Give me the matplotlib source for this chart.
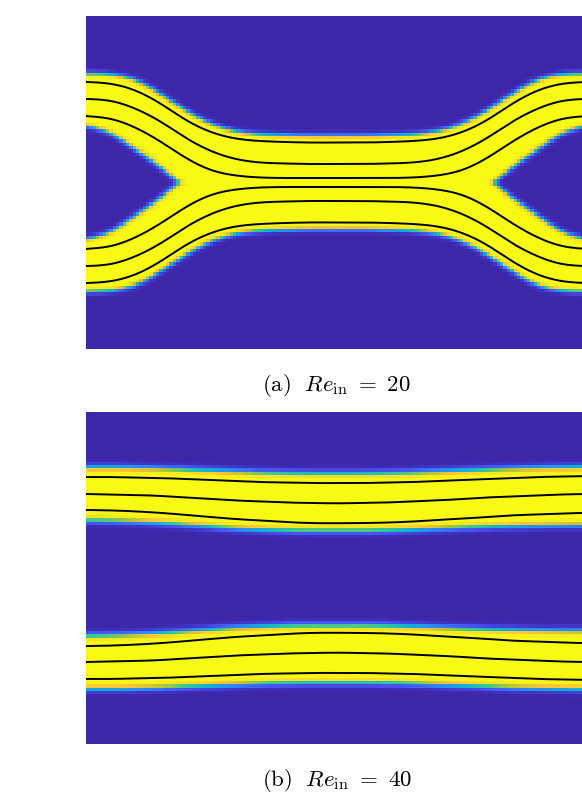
import numpy as np
import matplotlib
matplotlib.use("Agg")
import matplotlib.pyplot as plt
from matplotlib.colors import LinearSegmentedColormap

plt.rcParams["mathtext.fontset"] = "cm"

# parula colour map anchors
parula_anchors = [
    (0.2422, 0.1504, 0.6603), (0.2810, 0.3228, 0.9579), (0.1786, 0.5289, 0.9682),
    (0.0689, 0.6948, 0.8394), (0.2161, 0.7843, 0.5923), (0.6720, 0.7793, 0.2227),
    (0.9970, 0.7659, 0.2199), (0.9619, 0.8949, 0.1393), (0.9769, 0.9839, 0.0805),
]
parula = LinearSegmentedColormap.from_list("parula", parula_anchors)

# stream-wise stations of the channel (length 3, height 2)
x_stations = [0.00, 0.15, 0.30, 0.45, 0.60, 0.75, 0.90, 1.05, 1.20, 1.35, 1.50,
              1.65, 1.80, 1.95, 2.10, 2.25, 2.40, 2.55, 2.70, 2.85, 3.00]

# ---- Re_in = 20 : jets merge in the middle of the channel ----
a_upper_top = [1.652, 1.646, 1.610, 1.526, 1.429, 1.351, 1.306, 1.288, 1.282, 1.279, 1.279,
               1.279, 1.282, 1.288, 1.306, 1.351, 1.429, 1.526, 1.610, 1.646, 1.652]
a_upper_bottom = [1.345, 1.297, 1.201, 1.093, 0.973, 0.895, 0.865, 0.853, 0.847, 0.847, 0.847,
                  0.847, 0.847, 0.853, 0.865, 0.895, 0.973, 1.093, 1.201, 1.297, 1.345]
a_lower_top = [0.655, 0.703, 0.799, 0.907, 1.027, 1.105, 1.135, 1.147, 1.153, 1.153, 1.153,
               1.153, 1.153, 1.147, 1.135, 1.105, 1.027, 0.907, 0.799, 0.703, 0.655]
a_lower_bottom = [0.348, 0.354, 0.390, 0.474, 0.571, 0.649, 0.694, 0.712, 0.718, 0.721, 0.721,
                  0.721, 0.718, 0.712, 0.694, 0.649, 0.571, 0.474, 0.390, 0.354, 0.348]

a_stream_1 = [1.604, 1.592, 1.550, 1.471, 1.375, 1.303, 1.264, 1.249, 1.243, 1.240, 1.240,
              1.240, 1.243, 1.249, 1.264, 1.303, 1.375, 1.471, 1.550, 1.592, 1.604]
a_stream_2 = [1.502, 1.489, 1.441, 1.363, 1.267, 1.189, 1.141, 1.120, 1.114, 1.111, 1.111,
              1.111, 1.114, 1.120, 1.141, 1.189, 1.267, 1.363, 1.441, 1.489, 1.502]
a_stream_3 = [1.399, 1.381, 1.327, 1.243, 1.147, 1.075, 1.042, 1.030, 1.027, 1.027, 1.027,
              1.027, 1.027, 1.030, 1.042, 1.075, 1.147, 1.243, 1.327, 1.381, 1.399]
a_stream_4 = [0.601, 0.619, 0.673, 0.757, 0.853, 0.925, 0.958, 0.970, 0.973, 0.973, 0.973,
              0.973, 0.973, 0.970, 0.958, 0.925, 0.853, 0.757, 0.673, 0.619, 0.601]
a_stream_5 = [0.498, 0.511, 0.559, 0.637, 0.733, 0.811, 0.859, 0.880, 0.886, 0.889, 0.889,
              0.889, 0.886, 0.880, 0.859, 0.811, 0.733, 0.637, 0.559, 0.511, 0.498]
a_stream_6 = [0.396, 0.408, 0.450, 0.529, 0.625, 0.697, 0.736, 0.751, 0.757, 0.760, 0.760,
              0.760, 0.757, 0.751, 0.736, 0.697, 0.625, 0.529, 0.450, 0.408, 0.396]

# ---- Re_in = 40 : jets stay apart ----
b_upper_top = [1.663, 1.663, 1.660, 1.656, 1.650, 1.644, 1.638, 1.632, 1.629, 1.627, 1.627,
               1.627, 1.629, 1.632, 1.638, 1.644, 1.650, 1.656, 1.660, 1.663, 1.665]
b_upper_bottom = [1.350, 1.348, 1.343, 1.335, 1.325, 1.314, 1.303, 1.296, 1.291, 1.289, 1.289,
                  1.289, 1.291, 1.296, 1.302, 1.308, 1.313, 1.317, 1.320, 1.322, 1.323]
b_lower_top = [0.650, 0.652, 0.657, 0.665, 0.675, 0.686, 0.697, 0.704, 0.709, 0.711, 0.711,
               0.711, 0.709, 0.704, 0.698, 0.692, 0.687, 0.683, 0.680, 0.678, 0.677]
b_lower_bottom = [0.337, 0.337, 0.340, 0.344, 0.350, 0.356, 0.362, 0.368, 0.371, 0.373, 0.373,
                  0.373, 0.371, 0.368, 0.362, 0.356, 0.350, 0.344, 0.340, 0.337, 0.335]

b_stream_1 = [1.608, 1.608, 1.605, 1.602, 1.596, 1.590, 1.584, 1.578, 1.575, 1.572, 1.572,
              1.572, 1.575, 1.578, 1.584, 1.590, 1.596, 1.602, 1.608, 1.611, 1.614]
b_stream_2 = [1.506, 1.503, 1.500, 1.494, 1.485, 1.476, 1.467, 1.461, 1.455, 1.452, 1.450,
              1.452, 1.455, 1.461, 1.467, 1.476, 1.485, 1.491, 1.497, 1.503, 1.506]
b_stream_3 = [1.410, 1.407, 1.401, 1.392, 1.380, 1.367, 1.355, 1.346, 1.337, 1.331, 1.330,
              1.331, 1.334, 1.340, 1.349, 1.358, 1.367, 1.377, 1.383, 1.389, 1.392]
b_stream_4 = [0.590, 0.593, 0.599, 0.608, 0.620, 0.633, 0.645, 0.654, 0.663, 0.669, 0.670,
              0.669, 0.666, 0.660, 0.651, 0.642, 0.633, 0.623, 0.617, 0.611, 0.608]
b_stream_5 = [0.494, 0.497, 0.500, 0.506, 0.515, 0.524, 0.533, 0.539, 0.545, 0.548, 0.550,
              0.548, 0.545, 0.539, 0.533, 0.524, 0.515, 0.509, 0.503, 0.497, 0.494]
b_stream_6 = [0.392, 0.392, 0.395, 0.398, 0.404, 0.410, 0.416, 0.422, 0.425, 0.428, 0.428,
              0.428, 0.425, 0.422, 0.416, 0.410, 0.404, 0.398, 0.392, 0.389, 0.386]

captions = [r"$\mathrm{(a)}\ \ Re_{\mathrm{in}}\ =\ 20$", r"$\mathrm{(b)}\ \ Re_{\mathrm{in}}\ =\ 40$"]


def natural_spline(xk, yk, xq):
    xk = np.asarray(xk, float)
    yk = np.asarray(yk, float)
    n = len(xk)
    h = np.diff(xk)
    A = np.zeros((n, n))
    r = np.zeros(n)
    A[0, 0] = A[-1, -1] = 1.0
    for i in range(1, n - 1):
        A[i, i - 1] = h[i - 1]
        A[i, i] = 2 * (h[i - 1] + h[i])
        A[i, i + 1] = h[i]
        r[i] = 3 * ((yk[i + 1] - yk[i]) / h[i] - (yk[i] - yk[i - 1]) / h[i - 1])
    c = np.linalg.solve(A, r)
    b = (yk[1:] - yk[:-1]) / h - h * (2 * c[:-1] + c[1:]) / 3
    d = (c[1:] - c[:-1]) / (3 * h)
    idx = np.clip(np.searchsorted(xk, xq) - 1, 0, n - 2)
    t = xq - xk[idx]
    return yk[idx] + b[idx] * t + c[idx] * t ** 2 + d[idx] * t ** 3


NX, NY = 150, 100
xc = (np.arange(NX) + 0.5) * 3.0 / NX
yc = (np.arange(NY) + 0.5) * 2.0 / NY
X, Y = np.meshgrid(xc, yc)


def band(top, bottom, eps):
    t = natural_spline(x_stations, top, xc)
    b = natural_spline(x_stations, bottom, xc)
    ct = 1 / np.sqrt(1 + np.gradient(t, xc) ** 2)
    cb = 1 / np.sqrt(1 + np.gradient(b, xc) ** 2)
    return 0.25 * (1 + np.tanh((t - Y) * ct / eps)) * (1 + np.tanh((Y - b) * cb / eps))


fig = plt.figure(figsize=(5.82, 7.94), dpi=100)
FW, FH = 582.0, 794.0

panels = [
    dict(top_px=16, bot_px=349, eps=0.016,
         bands=[(a_upper_top, a_upper_bottom), (a_lower_top, a_lower_bottom)],
         streams=[a_stream_1, a_stream_2, a_stream_3, a_stream_4, a_stream_5, a_stream_6],
         cap_px=391.5),
    dict(top_px=412, bot_px=744, eps=0.021,
         bands=[(b_upper_top, b_upper_bottom), (b_lower_top, b_lower_bottom)],
         streams=[b_stream_1, b_stream_2, b_stream_3, b_stream_4, b_stream_5, b_stream_6],
         cap_px=786.0),
]

left_px, right_px = 86.0, 587.0
xf = np.linspace(0, 3, 600)
for p, cap in zip(panels, captions):
    ax = fig.add_axes([left_px / FW, 1 - p["bot_px"] / FH,
                       (right_px - left_px) / FW, (p["bot_px"] - p["top_px"]) / FH])
    field = np.maximum(*[band(t, b, p["eps"]) for t, b in p["bands"]])
    ax.imshow(field, origin="lower", extent=(0, 3, 0, 2), cmap=parula, vmin=0, vmax=1,
              interpolation="nearest", aspect="auto")
    for s in p["streams"]:
        ax.plot(xf, natural_spline(x_stations, s, xf), color="black", lw=1.4)
    ax.set_xlim(0, 3)
    ax.set_ylim(0, 2)
    ax.axis("off")
    fig.text((left_px + right_px) / 2 / FW, 1 - p["cap_px"] / FH, cap,
             ha="center", va="baseline", fontsize=16.5)

fig.savefig("out.png", dpi=100)
